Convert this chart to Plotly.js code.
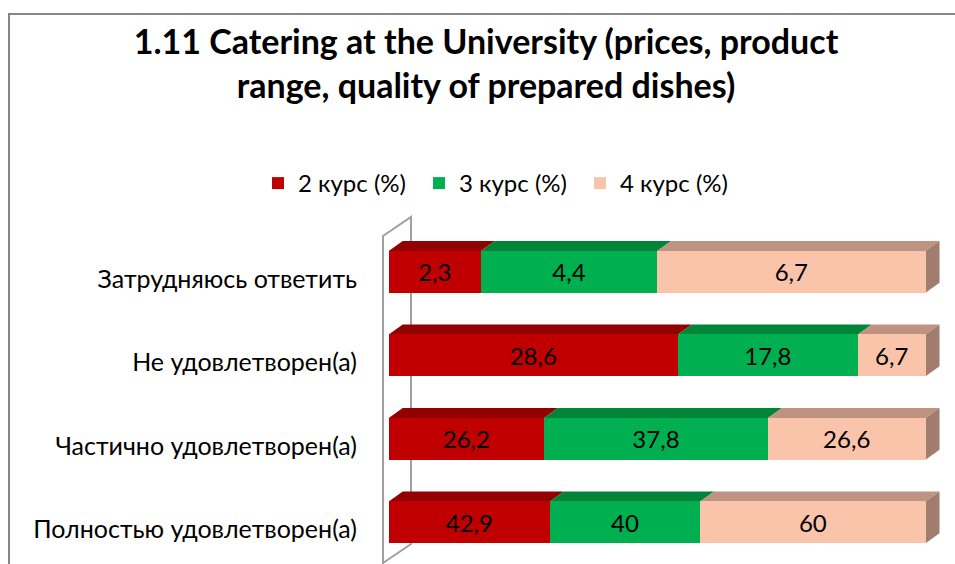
<!DOCTYPE html>
<html><head><meta charset="utf-8">
<script src="https://cdn.plot.ly/plotly-3.0.1.min.js"></script>
<style>body{margin:0;padding:0;background:#fff}#chart{width:955px;height:564px}</style>
</head><body><div id="chart"></div>
<script>
// Categories (bottom to top)
const categories = ['Полностью удовлетворен(а)', 'Частично удовлетворен(а)', 'Не удовлетворен(а)', 'Затрудняюсь ответить'];
const seriesNames = ['2 курс (%)', '3 курс (%)', '4 курс (%)'];
const course2 = [42.9, 26.2, 28.6, 2.3];
const course3 = [40, 37.8, 17.8, 4.4];
const course4 = [60, 26.6, 6.7, 6.7];
const seriesValues = [course2, course3, course4];

const frontColors = ['#C00000', '#00B050', '#F9C4A9'];
const topColors = ['#920000', '#008538', '#BE9381'];
const sideColor = '#A07D6E';

// layout geometry
const W = 955, H = 564;
const M = {l: 378, r: 8, t: 230, b: 0};
const plotW = W - M.l - M.r, plotH = H - M.t - M.b;
const xRange = [-2, 104], yRange = [-0.5, 3.5];
const pxPerX = plotW / (xRange[1] - xRange[0]);
const pxPerY = plotH / (yRange[1] - yRange[0]);
const depthX = 14 / pxPerX, depthY = 10 / pxPerY;
const barW = 0.5;
const px2paperX = p => (p - M.l) / plotW;
const px2paperY = p => (H - M.b - p) / plotH;

const yPos = categories.map((c, i) => i);
const fmt = v => String(v).replace('.', ',');

const traces = seriesValues.map((vals, s) => ({
  type: 'bar', orientation: 'h', name: seriesNames[s],
  y: yPos, x: vals, width: barW,
  marker: {color: frontColors[s], line: {width: 0}},
  text: vals.map(fmt), textposition: 'inside', insidetextanchor: 'middle',
  textangle: 0, constraintext: 'none',
  textfont: {family: 'Lato, sans-serif', size: 24, color: '#000'},
  hoverinfo: 'skip'
}));

const shapes = [];
// chart border
shapes.push({type: 'path', xref: 'paper', yref: 'paper', layer: 'below',
  path: `M${px2paperX(9)},${px2paperY(700)} L${px2paperX(9)},${px2paperY(14)} L${px2paperX(1000)},${px2paperY(14)}`,
  line: {color: '#868686', width: 2}});
// left wall
const wallPath = `M${px2paperX(383)},${px2paperY(700)} L${px2paperX(383)},${px2paperY(236)} L${px2paperX(411)},${px2paperY(217)} L${px2paperX(411)},${px2paperY(544)} L${px2paperX(383)},${px2paperY(563)}`;
shapes.push({type: 'path', xref: 'paper', yref: 'paper', layer: 'below', path: wallPath,
  line: {color: '#A0A0A0', width: 2}});

// 3D top faces and side faces computed from the data (percent normalised)
categories.forEach((c, i) => {
  const tot = seriesValues.reduce((a, sv) => a + sv[i], 0);
  let cum = 0;
  const yt = i + barW / 2, yb = i - barW / 2;
  seriesValues.forEach((sv, s) => {
    const xs = cum / tot * 100; cum += sv[i];
    const xe = cum / tot * 100;
    shapes.push({type: 'path', xref: 'x', yref: 'y', layer: 'below',
      path: `M${xs},${yt} L${xe},${yt} L${xe + depthX},${yt + depthY} L${xs + depthX},${yt + depthY} Z`,
      fillcolor: topColors[s], line: {width: 0}});
  });
  shapes.push({type: 'path', xref: 'x', yref: 'y', layer: 'below',
    path: `M100,${yb} L100,${yt} L${100 + depthX},${yt + depthY} L${100 + depthX},${yb + depthY} Z`,
    fillcolor: sideColor, line: {width: 0}});
});

const layout = {
  width: W, height: H, margin: M,
  paper_bgcolor: '#fff', plot_bgcolor: 'rgba(0,0,0,0)',
  barmode: 'stack', barnorm: 'percent', bargap: 0.5,
  font: {family: 'Lato, sans-serif', color: '#000'},
  title: {text: '1.11 Catering at the University (prices, product<br>range, quality of prepared dishes)',
    font: {family: 'Lato, sans-serif', size: 34, color: '#000', weight: 'bold'},
    x: 486 / W, xanchor: 'center', xref: 'container',
    y: 1 - 54 / H, yanchor: 'top', yref: 'container'},
  xaxis: {range: xRange, visible: false, fixedrange: true},
  yaxis: {range: yRange, tickmode: 'array', tickvals: yPos, ticktext: categories,
    showgrid: false, zeroline: false, showline: false, ticks: '',
    tickfont: {family: 'Lato, sans-serif', size: 25, color: '#000'},
    ticklabelstandoff: 20, ticklabelshift: 7, fixedrange: true},
  showlegend: true,
  legend: {orientation: 'h', xref: 'container', yref: 'container',
    x: 258 / W, xanchor: 'left', y: 1 - 161 / H, yanchor: 'top',
    entrywidth: 116,
    font: {family: 'Lato, sans-serif', size: 24, color: '#000'},
    traceorder: 'normal', itemclick: false, itemdoubleclick: false},
  shapes: shapes
};
Plotly.newPlot('chart', traces, layout, {staticPlot: true, displayModeBar: false});
</script></body></html>
